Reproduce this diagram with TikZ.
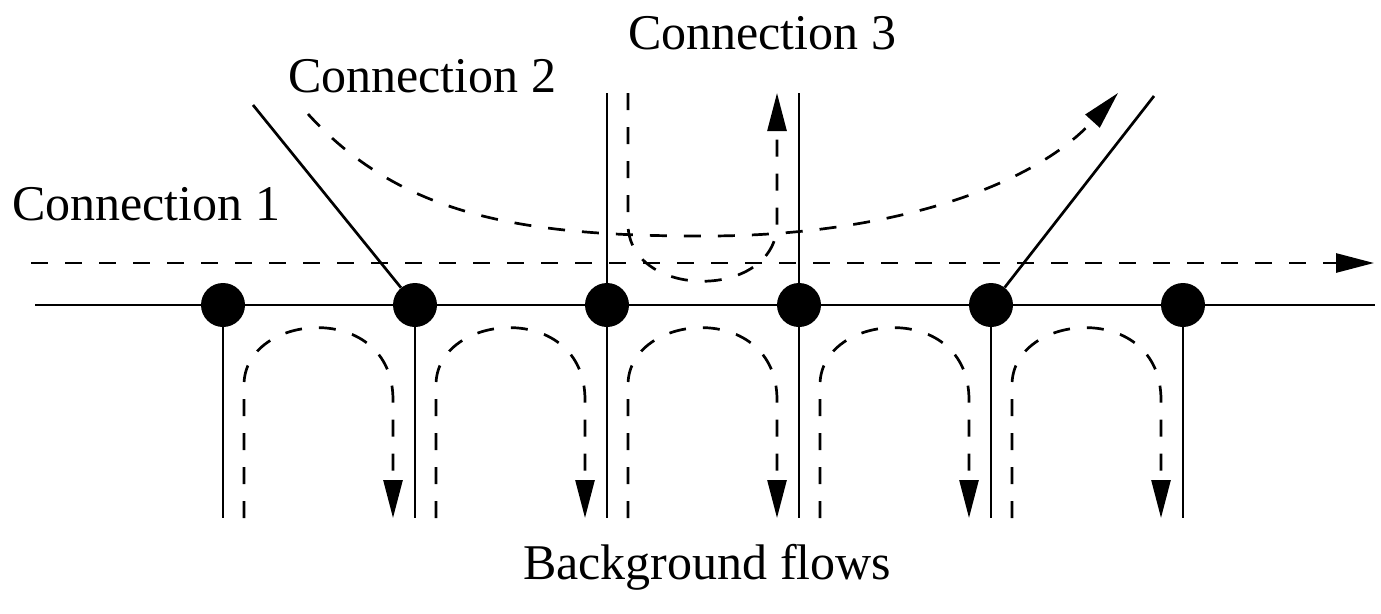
\documentclass[tikz,border=0pt]{standalone}
\usepackage{fontspec}
\setmainfont{Liberation Serif}
\usetikzlibrary{arrows.meta}
\begin{document}
\begin{tikzpicture}[x=1pt,y=-1pt,
  line/.style={line width=2.7pt},
  flow/.style={line width=2.7pt, dash pattern=on 17pt off 17pt},
  tip/.style={-{Triangle[length=38pt,width=19pt]}},
  router/.style={circle,fill=black,minimum size=44pt,inner sep=0pt},
  lbl/.style={font=\fontsize{50}{60}\selectfont, inner sep=0pt, anchor=base west}]
\useasboundingbox (0,0) rectangle (1381,613);
% main horizontal link
\coordinate (hl) at (35,305);
\coordinate (hr) at (1375,305);
\draw[line] (hl) -- (hr);
% routers
\foreach \i/\x in {1/223,2/415,3/607,4/799,5/991,6/1183}{
  \node[router] (r\i) at (\x,305) {};
  \coordinate (b\i) at (\x,518);
  \draw[line] (r\i.center) -- (b\i);
}
% side links
\coordinate (c2in) at (253,105);
\coordinate (c2out) at (1154,96);
\coordinate (c3l) at (607,93);
\coordinate (c3r) at (799,93);
\draw[line] (c2in) -- (r2);
\draw[line] (r5) -- (c2out);
\draw[line] (c3l) -- (r3);
\draw[line] (c3r) -- (r4);
% background flows
\foreach \i in {1,...,5}{
  \pgfmathsetmacro{\xa}{223+192*(\i-1)+21}
  \pgfmathsetmacro{\xb}{223+192*(\i-1)+170}
  \coordinate (fs\i) at (\xa,518);
  \coordinate (fe\i) at (\xb,518);
  \draw[flow,tip] (fs\i) -- (\xa,385) .. controls (\xa,312) and (\xb,300) .. (\xb,400) -- (fe\i);
}
% connection 1
\coordinate (c1s) at (31,263);
\coordinate (c1e) at (1374,263);
\draw[flow,tip] (c1s) -- (c1e);
% connection 2
\coordinate (c2s) at (308,114);
\coordinate (c2e) at (1118,93);
\draw[flow,tip] (c2s) .. controls (400,215) and (520,236) .. (700,236)
  .. controls (880,237) and (1030,190) .. (c2e);
% connection 3
\coordinate (c3s) at (628,93);
\coordinate (c3e) at (777,93);
\draw[flow,tip] (c3s) -- (628,225) .. controls (630,300) and (775,300) .. (777,225) -- (c3e);
% labels
\node[lbl] (t1) at (12,220) {Connection 1};
\node[lbl] (t2) at (288,92) {Connection 2};
\node[lbl] (t3) at (628,49) {Connection 3};
\node[lbl] (t4) at (523,579) {Background flows};
\end{tikzpicture}
\end{document}
